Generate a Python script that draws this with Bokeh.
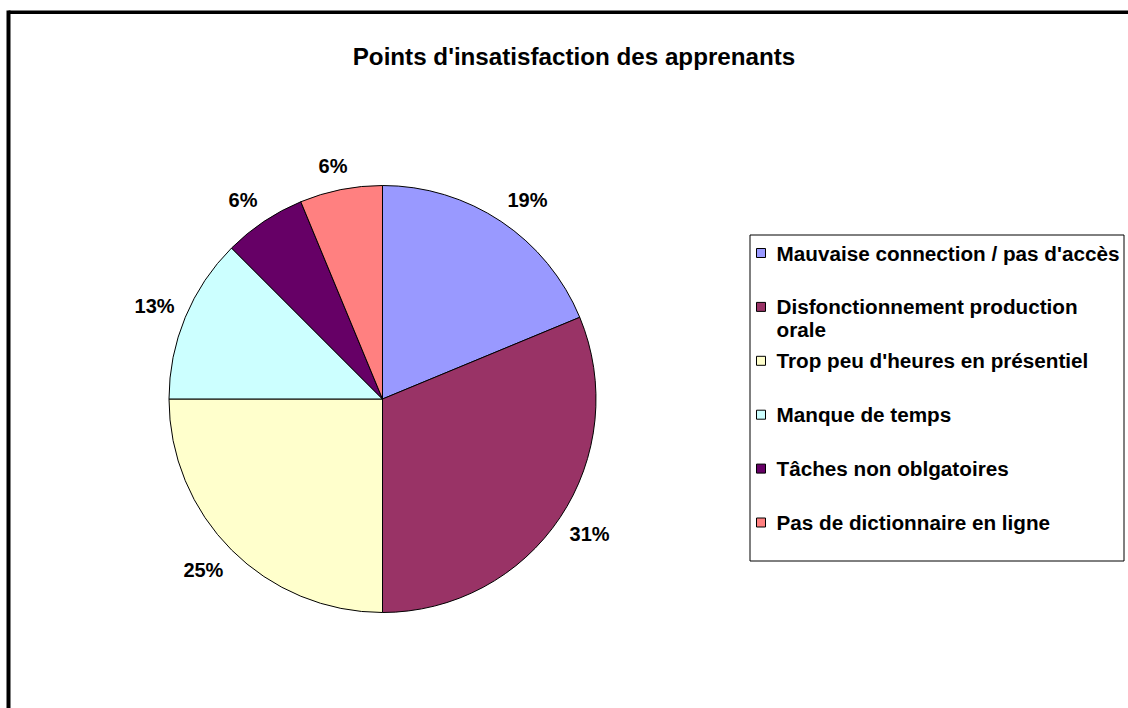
import textwrap
import numpy as np
from bokeh.plotting import figure
from bokeh.models import Range1d, ColumnDataSource
from bokeh.core.properties import value
from bokeh.embed import file_html
from bokeh.resources import INLINE

# ---- data ----
title = "Points d'insatisfaction des apprenants"
categories = [
    "Mauvaise connection / pas d'accès",
    "Disfonctionnement production orale",
    "Trop peu d'heures en présentiel",
    "Manque de temps",
    "Tâches non oblgatoires",
    "Pas de dictionnaire en ligne",
]
counts = [3, 5, 4, 2, 1, 1]
colors = ["#9999FF", "#993366", "#FFFFCC", "#CCFFFF", "#660066", "#FF8080"]

# ---- layout (pixels inside the figure) ----
W, H = 1128, 708
FONT = value("Liberation Sans")
cx, cy, R = 382.0, 309.5, 213.5
label_r = 225.0

p = figure(width=W, height=H, x_range=Range1d(0, W), y_range=Range1d(0, H),
           output_backend="svg", toolbar_location=None, min_border=0,
           x_axis_location=None, y_axis_location=None)
p.grid.visible = False
p.outline_line_color = None
p.background_fill_color = "white"
p.border_fill_color = "white"

# outer chart frame (top and left edges visible)
p.line([8, W], [696.35, 696.35], line_color="black", line_width=3.5)
p.line([8, 8], [0, 698], line_color="black", line_width=4)

# title
p.text(x=[573.5], y=[652.3], text=[title], text_align="center",
       text_baseline="alphabetic", text_font=FONT, text_font_style="bold",
       text_font_size="24.2px", text_color="black")

# pie
vals = np.array(counts, dtype=float)
frac = vals / vals.sum()
cum = np.concatenate([[0.0], np.cumsum(frac)])
start = np.pi / 2 - 2 * np.pi * cum[:-1]
end = np.pi / 2 - 2 * np.pi * cum[1:]
src = ColumnDataSource(dict(start=start, end=end, color=colors))
p.wedge(x=cx, y=cy, radius=R, start_angle="start", end_angle="end",
        direction="clock", fill_color="color", line_color="black",
        line_width=1, source=src)

# percentage labels (box pushed outward from the rim)
mid = (start + end) / 2
ux, uy = np.cos(mid), np.sin(mid)
pct = [f"{int(f * 100 + 0.5)}%" for f in frac]
hw = np.array([0.5 * 20 * (0.556 * (len(t) - 1) + 0.889) for t in pct])
hh = 12.0
lx = cx + label_r * ux + hw * np.clip(ux / 0.5, -1, 1)
ly = cy + label_r * uy + hh * np.clip(uy / 0.7, -1, 1)
p.text(x=lx, y=ly, text=pct, text_align="center", text_baseline="middle",
       text_font=FONT, text_font_style="bold", text_font_size="20px",
       text_color="black")

# legend
p.quad(left=749.5, right=1123.5, bottom=147.5, top=473.5,
       fill_color=None, line_color="black", line_width=1)
row_y = [708 - (252.5 + 53.9 * i) for i in range(len(categories))]
p.rect(x=[760.5] * len(categories), y=row_y, width=9, height=9,
       fill_color=colors, line_color="black", line_width=1)
tx, ty, tt = [], [], []
for yy, name in zip(row_y, categories):
    for k, line in enumerate(textwrap.wrap(name, 33)):
        tx.append(776)
        ty.append(yy - 23 * k)
        tt.append(line)
p.text(x=tx, y=ty, text=tt, text_align="left", text_baseline="middle",
       text_font=FONT, text_font_style="bold", text_font_size="20.7px",
       text_color="black")

open("out.html", "w").write(file_html(p, INLINE))
